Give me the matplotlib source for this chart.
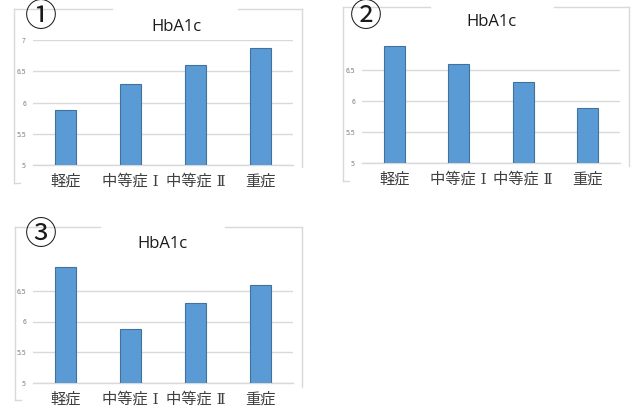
import matplotlib
matplotlib.use("Agg")
import matplotlib.pyplot as plt
from matplotlib.lines import Line2D

plt.rcParams["font.family"] = ["Noto Sans CJK JP", "DejaVu Sans"]

categories = ["軽症", "中等症 Ⅰ", "中等症 Ⅱ", "重症"]
hba1c_1 = [5.88, 6.30, 6.60, 6.88]
hba1c_2 = [6.88, 6.60, 6.30, 5.88]
hba1c_3 = [6.88, 5.88, 6.30, 6.60]
yticks = [5, 5.5, 6, 6.5, 7]
ytick_labels = ["5", "5.5", "6", "6.5", "7"]

W, H = 636, 409
fig = plt.figure(figsize=(W / 100, H / 100), dpi=100)

bar_color = "#5B9BD5"
edge_color = "#41719C"
grid_color = "#D9D9D9"
frame_color = "#D9D9D9"


def fx(x):
    return x / W


def fy(y):
    return 1 - y / H


def frame_line(xs, ys):
    fig.add_artist(Line2D([fx(x) for x in xs], [fy(y) for y in ys],
                          color=frame_color, lw=1.0, transform=fig.transFigure))


def panel(x0, x1, y_top, y_bot, values, number, title_x, title_y, num_x, num_y,
          frame, show_seven=True):
    ax = fig.add_axes([fx(x0), fy(y_bot), fx(x1 - x0), (y_bot - y_top) / H])
    ax.bar(range(len(categories)), values, width=0.32, color=bar_color,
           edgecolor=edge_color, linewidth=0.8, zorder=3)
    ax.set_xlim(-0.5, len(categories) - 0.5)
    ax.set_ylim(5, 7)
    if show_seven:
        ax.set_yticks(yticks, ytick_labels)
    else:
        ax.set_yticks(yticks[:-1], ytick_labels[:-1])
    ax.set_xticks(range(len(categories)))
    ax.set_xticklabels(categories, family=["DejaVu Serif", "Noto Sans CJK JP"],
                       fontsize=11, color="#404040")
    ax.tick_params(axis="y", length=0, pad=5, labelsize=5, labelcolor="#7F7F7F")
    ax.tick_params(axis="x", length=0, pad=6.5)
    ax.yaxis.grid(True, color=grid_color, lw=1.0, zorder=0)
    for s in ["top", "right", "left"]:
        ax.spines[s].set_visible(False)
    ax.spines["bottom"].set_color(grid_color)
    ax.spines["bottom"].set_linewidth(1.0)
    ax.set_facecolor("none")

    fig.text(fx(title_x), fy(title_y), "HbA1c", ha="center", va="center",
             fontsize=12, color="#1A1A1A", family=["Open Sans", "DejaVu Sans"])
    fig.text(fx(num_x), fy(num_y), number, ha="center", va="center",
             fontsize=23, color="#1A1A1A")

    left, right, top, bottom, gap_a, gap_b, right_bot = frame
    frame_line([left, gap_a], [top, top])
    frame_line([gap_b, right], [top, top])
    frame_line([left, left], [top, bottom])
    frame_line([left, left + 6], [bottom, bottom])
    frame_line([right, right], [top, right_bot])
    return ax


panel(33, 293, 40, 165, hba1c_1, "①", 176, 27, 41, 17,
      (14, 302, 9, 183, 112, 238, 167))
panel(362, 620, 39, 163, hba1c_2, "②", 491, 22, 366, 17,
      (343, 629, 7, 181, 430, 554, 166), show_seven=False)
panel(33, 293, 260, 383, hba1c_3, "③", 162, 244, 41, 235,
      (15, 302, 227, 400, 100, 225, 387), show_seven=False)

fig.savefig("out.png", dpi=100, facecolor="white")
